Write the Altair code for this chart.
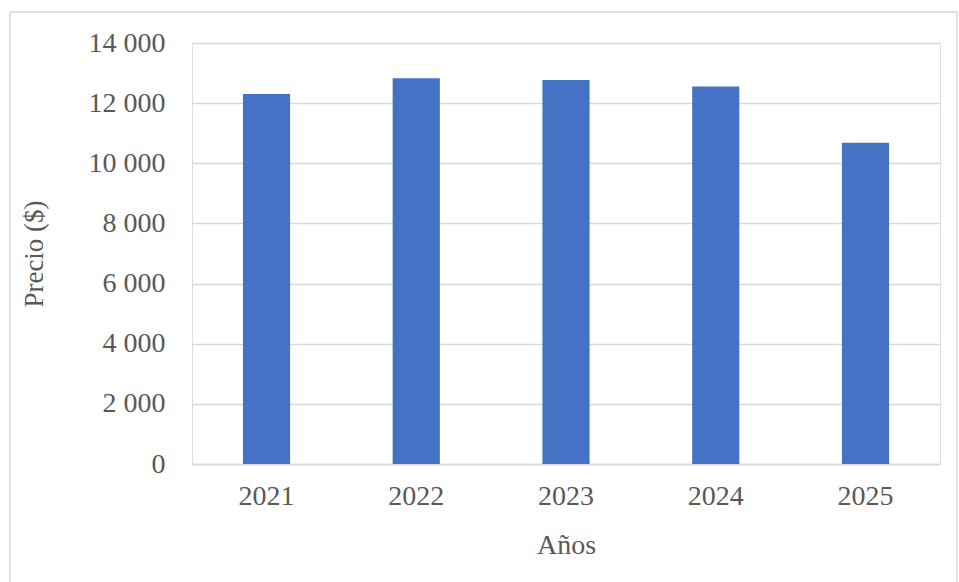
import altair as alt
import pandas as pd

years = ["2021", "2022", "2023", "2024", "2025"]
prices = [12300, 12830, 12770, 12550, 10680]

df = pd.DataFrame({"Año": years, "Precio": prices})

FONT = "Liberation Serif"
GRAY = "#595959"

bars = alt.Chart(df).mark_bar(color="#4472C4").encode(
    x=alt.X("Año:N", sort=years,
            scale=alt.Scale(paddingInner=0.685, paddingOuter=0.34),
            axis=alt.Axis(title="Años", labelAngle=0, ticks=False,
                          domainColor="#d9d9d9", domainWidth=1.5,
                          labelFont=FONT, labelFontSize=28, labelColor=GRAY,
                          labelPadding=18,
                          titleFont=FONT, titleFontSize=28, titleColor=GRAY,
                          titleFontWeight="normal", titlePadding=21)),
    y=alt.Y("Precio:Q",
            scale=alt.Scale(domain=[0, 14000]),
            axis=alt.Axis(title="Precio ($)", values=list(range(0, 14001, 2000)),
                          labelExpr="replace(format(datum.value, ','), ',', ' ')",
                          domain=False, ticks=False,
                          gridColor="#d9d9d9", gridWidth=1.5,
                          labelFont=FONT, labelFontSize=28, labelColor=GRAY,
                          labelPadding=27,
                          titleFont=FONT, titleFontSize=27, titleColor=GRAY,
                          titleFontWeight="normal", titlePadding=40)),
)

frame = alt.Chart(pd.DataFrame({"f": [0]})).mark_rect(
    fill=None, stroke="#d9d9d9", strokeWidth=1.5
).encode(
    x=alt.value(-182), x2=alt.value(765),
    y=alt.value(-31), y2=alt.value(560),
)

chart = alt.layer(frame, bars).properties(
    width=748, height=421,
    autosize=alt.AutoSizeParams(type="none"),
    padding={"left": 192, "top": 43, "right": 19, "bottom": 118},
).configure_view(stroke=None).configure(background="white")

chart.save("out.html", embed_options={"renderer": "svg", "actions": False})
